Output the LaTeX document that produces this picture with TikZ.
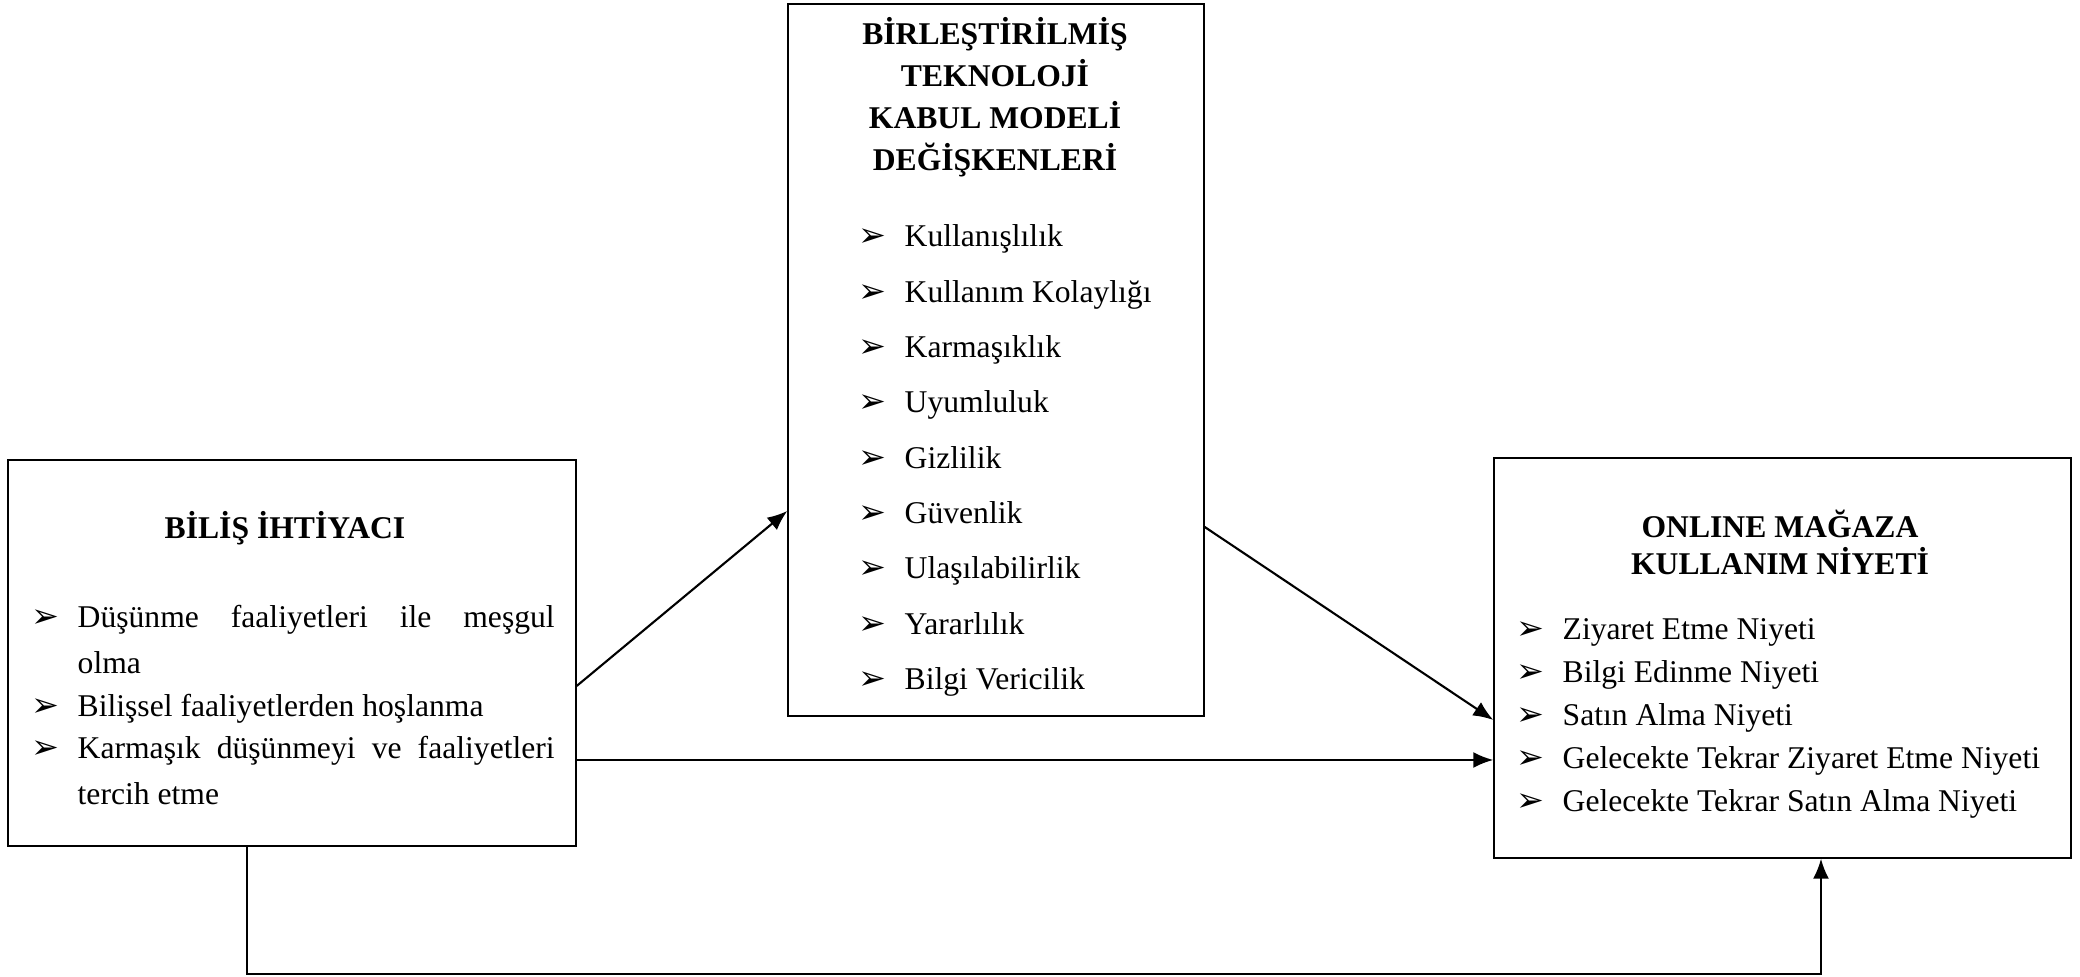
\documentclass[tikz,border=0pt]{standalone}
\usepackage{fontspec}
\setmainfont{Liberation Serif}
\newfontfamily\dejavu{DejaVu Sans}
\newcommand{\bul}{\makebox[0.46cm][l]{\dejavu\fontsize{9.5}{9.5}\selectfont\char"27A2}}
\usetikzlibrary{arrows.meta}

\begin{document}
\begin{tikzpicture}[
  kutu/.style={draw, line width=0.4pt, inner sep=0pt},
  baslik/.style={font=\bfseries\fontsize{9}{12}\selectfont, align=center, inner sep=0pt},
  madde/.style={anchor=base west, inner sep=0pt, font=\fontsize{9}{13}\selectfont},
  ok/.style={-{Latex[length=0.2cm,width=0.16cm]}, line width=0.6pt}
]
\useasboundingbox (0,0) rectangle (20.8,9.77);

\node[kutu, minimum width=5.68cm, minimum height=3.86cm] (bilis) at (2.92,3.24) {};
\node[kutu, minimum width=4.16cm, minimum height=7.12cm] (tam) at (9.96,6.17) {};
\node[kutu, minimum width=5.77cm, minimum height=4.00cm] (niyet) at (17.825,3.19) {};

\node[baslik] (bilisbaslik) at (2.85,4.49) {BİLİŞ İHTİYACI};
\node[baslik] (tambaslik) at (9.95,8.80) {BİRLEŞTİRİLMİŞ\\TEKNOLOJİ\\KABUL MODELİ\\DEĞİŞKENLERİ};
\node[baslik, font=\bfseries\fontsize{9}{10.5}\selectfont] (niyetbaslik) at (17.80,4.345) {ONLINE MAĞAZA\\KULLANIM NİYETİ};

\node[madde] (b1) at (0.31,3.49) {\bul\parbox[t]{4.77cm}{Düşünme\hfill faaliyetleri\hfill ile\hfill meşgul\\olma}};
\node[madde] (b2) at (0.31,2.60) {\bul Bilişsel faaliyetlerden hoşlanma};
\node[madde] (b3) at (0.31,2.18) {\bul\parbox[t]{4.77cm}{Karmaşık\hfill düşünmeyi\hfill ve\hfill faaliyetleri\\tercih etme}};

\foreach \m [count=\i] in {Kullanışlılık,Kullanım Kolaylığı,Karmaşıklık,Uyumluluk,Gizlilik,Güvenlik,Ulaşılabilirlik,Yararlılık,Bilgi Vericilik}
  \node[madde] (t\i) at (8.58,{7.30-0.553*(\i-1)}) {\bul\m};

\foreach \m [count=\i] in {Ziyaret Etme Niyeti,Bilgi Edinme Niyeti,Satın Alma Niyeti,Gelecekte Tekrar Ziyaret Etme Niyeti,Gelecekte Tekrar Satın Alma Niyeti}
  \node[madde] (n\i) at (15.16,{3.37-0.43*(\i-1)}) {\bul\m};

\draw[ok] ([yshift=-0.33cm]bilis.east) -- ([yshift=-1.51cm]tam.west);
\draw[ok] ([yshift=-1.67cm]tam.east) -- ([yshift=-0.62cm]niyet.west);
\draw[ok] ([yshift=-1.07cm]bilis.east) -- ([yshift=-1.07cm]bilis.east -| niyet.west);
\draw[ok] ([xshift=-0.45cm]bilis.south) -- ++(0,-1.27) -| ([xshift=0.385cm]niyet.south);
\end{tikzpicture}
\end{document}
